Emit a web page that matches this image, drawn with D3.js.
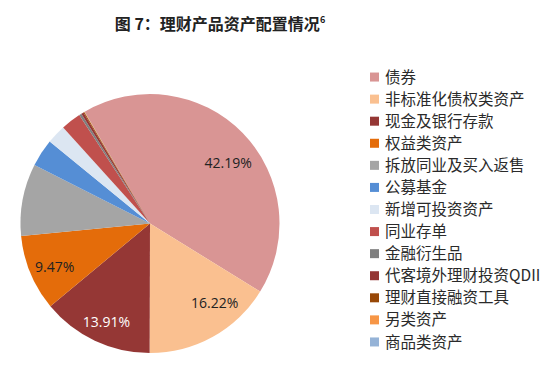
<!DOCTYPE html>
<html><head><meta charset="utf-8">
<script src="https://cdn.jsdelivr.net/npm/d3@7"></script>
<style>body{margin:0;background:#fff}</style>
</head><body>
<svg id="c" width="550" height="391"></svg>
<script>
const categories = ["债券","非标准化债权类资产","现金及银行存款","权益类资产","拆放同业及买入返售","公募基金","新增可投资资产","同业存单","金融衍生品","代客境外理财投资QDII","理财直接融资工具","另类资产","商品类资产"];
const values = [42.19,16.22,13.91,9.47,9.0,3.44,2.4,2.5,0.3,0.3,0.12,0.04,0.02];
const colors = ["#D99594","#FAC090","#953735","#E46C0A","#A5A5A5","#558ED5","#DCE6F2","#C0504D","#7F7F7F","#943634","#984807","#F79646","#95B3D7"];
const shownLabels = ["42.19%","16.22%","13.91%","9.47%"];
const labelColors = ["#222","#222","#fff","#222"];
const labelNudge = [[5,11],[15,-10],[0,6],[-1,4]];

const svg = d3.select("#c");
svg.append("text").attr("x",220).attr("y",30).attr("text-anchor","middle")
  .attr("font-family","'Noto Sans CJK SC'").attr("font-weight","bold").attr("font-size",16).attr("fill","#222")
  .text("图 7：理财产品资产配置情况").append("tspan").attr("font-size",9).attr("dy",-7).text("6");

const cx=150, cy=223.5, R=129.5;
const startA = -30.3*Math.PI/180;
const pie = d3.pie().sort(null).value(d=>d).startAngle(startA).endAngle(startA+2*Math.PI);
const arcs = pie(values);
const arc = d3.arc().innerRadius(0).outerRadius(R);
const labArc = d3.arc().innerRadius(R*0.79).outerRadius(R*0.79);
const g = svg.append("g").attr("transform",`translate(${cx},${cy})`);
g.selectAll("path").data(arcs).join("path").attr("d",arc).attr("fill",(d,i)=>colors[i]);
g.selectAll("text").data(arcs.slice(0,shownLabels.length)).join("text")
  .attr("transform",(d,i)=>{const c=labArc.centroid(d);return `translate(${c[0]+labelNudge[i][0]},${c[1]+labelNudge[i][1]})`;})
  .attr("text-anchor","middle").attr("dy","0.35em")
  .attr("font-family","'Open Sans', sans-serif").attr("font-size",14)
  .attr("fill",(d,i)=>labelColors[i]).text((d,i)=>shownLabels[i]);

const y = d3.scaleBand().domain(categories).range([66,353]);
const lg = svg.append("g");
const rows = lg.selectAll("g").data(categories).join("g")
  .attr("transform",d=>`translate(370,${y(d)+y.bandwidth()/2})`);
rows.append("rect").attr("x",0).attr("y",-4.5).attr("width",9).attr("height",9).attr("fill",(d,i)=>colors[i]);
rows.append("text").attr("x",15).attr("dy","0.36em").attr("font-family","'Noto Sans CJK SC'")
  .attr("font-size",15.5).attr("fill","#2a2a2a").text(d=>d);
</script>
</body></html>
